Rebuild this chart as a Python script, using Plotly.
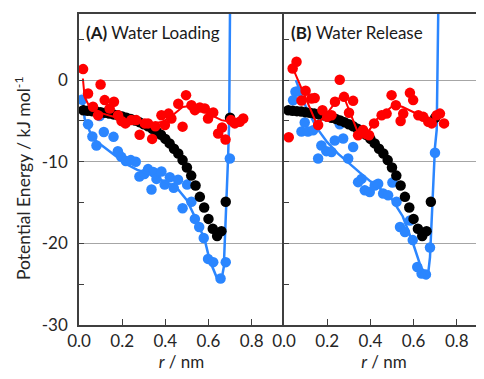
import plotly.graph_objects as go

# ---------------- data ----------------
black_x = [0.02, 0.04, 0.06, 0.08, 0.10, 0.12, 0.14, 0.16, 0.18, 0.20, 0.22, 0.24,
           0.26, 0.28, 0.30, 0.32, 0.34, 0.36, 0.38, 0.40, 0.42, 0.44, 0.46, 0.48,
           0.50, 0.52, 0.54, 0.56, 0.58, 0.60, 0.62, 0.64, 0.66, 0.68, 0.70]
black_y = [-3.7, -3.75, -3.8, -3.85, -3.95, -4.0, -4.1, -4.2, -4.3, -4.45, -4.6, -4.75,
           -4.95, -5.15, -5.4, -5.65, -5.95, -6.3, -6.7, -7.2, -7.75, -8.4, -9.0, -9.8,
           -10.7, -11.7, -12.9, -14.3, -15.6, -17.0, -18.2, -19.1, -18.5, -14.9, -4.6]

# (A) Water Loading
a_blue_x = [0.014, 0.042, 0.062, 0.081, 0.096, 0.115, 0.160, 0.180, 0.196, 0.217, 0.240,
            0.263, 0.280, 0.303, 0.320, 0.336, 0.344, 0.359, 0.382, 0.397, 0.421, 0.439,
            0.459, 0.480, 0.501, 0.521, 0.537, 0.557, 0.578, 0.598, 0.622, 0.656, 0.680, 0.699]
a_blue_y = [-2.4, -5.4, -6.9, -8.0, -4.4, -6.35, -6.95, -8.7, -9.4, -9.9, -9.8,
            -10.0, -11.8, -11.5, -10.9, -13.4, -11.25, -12.1, -11.2, -12.8, -11.9, -13.2,
            -12.2, -15.7, -12.8, -14.9, -17.0, -18.0, -19.35, -21.9, -22.3, -24.3, -22.3, -9.6]
a_bfit_x = [0.018, 0.026, 0.05, 0.08, 0.12, 0.16, 0.22, 0.27, 0.33, 0.37, 0.41, 0.45,
            0.50, 0.545, 0.583, 0.606, 0.637, 0.660, 0.671, 0.680, 0.691, 0.696, 0.700, 0.703]
a_bfit_y = [-2.3, -4.7, -6.3, -7.5, -8.3, -9.1, -10.3, -11.0, -11.5, -12.1, -12.6, -13.1,
            -14.7, -17.2, -19.6, -22.1, -24.1, -24.5, -22.9, -17.6, -9.4, -5.0, 8.2, 20.0]
a_red_x = [0.019, 0.042, 0.065, 0.088, 0.100, 0.119, 0.142, 0.162, 0.181, 0.197, 0.215,
           0.242, 0.265, 0.281, 0.305, 0.320, 0.339, 0.354, 0.382, 0.398, 0.415, 0.428,
           0.460, 0.480, 0.496, 0.521, 0.537, 0.560, 0.583, 0.598, 0.622, 0.645, 0.663,
           0.679, 0.704, 0.722, 0.745, 0.761]
a_red_y = [1.35, -1.64, -3.27, -4.3, -0.53, -2.45, -3.48, -2.66, -4.3, -5.0, -5.3,
           -4.9, -4.9, -6.7, -5.3, -5.3, -7.2, -5.66, -4.3, -5.5, -4.1, -4.7,
           -2.9, -5.7, -1.84, -3.07, -3.68, -3.35, -3.47, -4.7, -3.97, -6.55, -5.8,
           -7.28, -4.9, -5.3, -5.1, -4.7]
a_rfit_x = [0.018, 0.026, 0.049, 0.111, 0.188, 0.265, 0.342, 0.388, 0.434, 0.480,
            0.506, 0.552, 0.598, 0.660, 0.700]
a_rfit_y = [0.2, -2.05, -3.28, -4.1, -4.7, -5.1, -5.3, -5.1, -4.3, -3.3,
            -3.2, -3.5, -4.1, -4.9, -5.1]

# (B) Water Release
b_blue_x = [0.042, 0.053, 0.065, 0.081, 0.096, 0.111, 0.135, 0.158, 0.173, 0.196, 0.220,
            0.235, 0.258, 0.274, 0.297, 0.320, 0.343, 0.359, 0.374, 0.397, 0.420, 0.436,
            0.459, 0.482, 0.502, 0.521, 0.537, 0.560, 0.583, 0.596, 0.617, 0.637, 0.657,
            0.676, 0.699]
b_blue_y = [-2.46, -1.43, -1.35, -6.3, -5.2, -6.3, -6.15, -9.6, -8.0, -8.7, -8.8,
            -7.4, -5.4, -7.15, -9.6, -8.2, -12.5, -12.1, -13.5, -13.7, -12.9, -12.7,
            -13.9, -14.1, -12.55, -14.9, -18.0, -18.6, -17.2, -19.6, -22.9, -23.7, -23.8,
            -20.5, -8.9]
b_bfit_x = [0.055, 0.10, 0.15, 0.20, 0.25, 0.30, 0.35, 0.40, 0.45, 0.50, 0.55, 0.60,
            0.63, 0.655, 0.665, 0.676, 0.688, 0.699, 0.707, 0.714, 0.72]
b_bfit_y = [0.0, -3.2, -5.8, -7.6, -9.0, -10.2, -11.3, -12.4, -13.4, -14.6, -16.7, -20.2,
            -22.6, -24.1, -24.3, -21.7, -14.3, -8.2, -6.1, 8.2, 20.0]
b_red_x = [0.022, 0.040, 0.058, 0.081, 0.100, 0.127, 0.142, 0.158, 0.178, 0.200, 0.220,
           0.236, 0.258, 0.278, 0.301, 0.320, 0.343, 0.366, 0.380, 0.394, 0.417, 0.452,
           0.475, 0.498, 0.518, 0.540, 0.552, 0.583, 0.598, 0.622, 0.645, 0.668, 0.684,
           0.707, 0.722, 0.741]
b_red_y = [-7.0, 1.43, 2.25, -2.5, -1.3, -2.25, -2.2, -5.5, -3.7, -4.5, -4.3,
           -2.66, 0.05, -2.05, -4.0, -2.54, -6.75, -6.1, -6.6, -6.75, -5.3, -4.3,
           -4.1, -1.84, -3.07, -5.0, -4.1, -1.56, -2.45, -4.3, -4.5, -5.1, -5.3,
           -4.3, -4.1, -5.3]
b_rfit_x = [0.042, 0.152, 0.19, 0.25, 0.275, 0.345, 0.39, 0.43, 0.47, 0.51, 0.55,
            0.60, 0.66, 0.70, 0.72]
b_rfit_y = [1.4, -5.4, -4.4, -2.3, -1.9, -6.6, -6.3, -4.8, -3.9, -3.0, -3.3,
            -3.9, -4.7, -4.9, -4.3]

x_ticks = [0.0, 0.2, 0.4, 0.6, 0.8]
x_ticklabels = ["0.0", "0.2", "0.4", "0.6", "0.8"]
y_ticks = [0, -10, -20, -30]
y_ticklabels = ["0", "-10", "-20", "-30"]
panel_titles = ["<b>(A)</b> Water Loading", "<b>(B)</b> Water Release"]

# ---------------- style ----------------
BLUE = "#2B86FF"
RED = "#FF0000"
BLACK = "#000000"
FONT = "Lato"
MS = 10.5

fig = go.Figure()

def add_panel(sfx, bx, by, bfx, bfy, rx, ry, rfx, rfy):
    xa = "x" + sfx
    ya = "y" + sfx
    fig.add_trace(go.Scatter(x=bx, y=by, mode="markers", xaxis=xa, yaxis=ya,
                             marker=dict(color=BLUE, size=MS), showlegend=False))
    fig.add_trace(go.Scatter(x=bfx, y=bfy, mode="lines", xaxis=xa, yaxis=ya,
                             line=dict(color=BLUE, width=2.5), showlegend=False))
    fig.add_trace(go.Scatter(x=black_x, y=black_y, mode="markers", xaxis=xa, yaxis=ya,
                             marker=dict(color=BLACK, size=MS), showlegend=False))
    fig.add_trace(go.Scatter(x=rx, y=ry, mode="markers", xaxis=xa, yaxis=ya,
                             marker=dict(color=RED, size=MS), showlegend=False))
    fig.add_trace(go.Scatter(x=rfx, y=rfy, mode="lines", xaxis=xa, yaxis=ya,
                             line=dict(color=RED, width=2), showlegend=False))

add_panel("", a_blue_x, a_blue_y, a_bfit_x, a_bfit_y, a_red_x, a_red_y, a_rfit_x, a_rfit_y)
add_panel("2", b_blue_x, b_blue_y, b_bfit_x, b_bfit_y, b_red_x, b_red_y, b_rfit_x, b_rfit_y)

AXC = "#3F3F3F"
TXT = "#262626"
TICKFONT = dict(family=FONT, size=17, color=TXT)

# the page body has an 8px default margin, so the figure is drawn 8px in/down
W, H = 476, 371
ML, MT, MB = 71, 6, 54
PW = W - ML
PH = H - MT - MB
split = 205.0 / PW

xcommon = dict(showline=True, linecolor=AXC, linewidth=1.5, mirror=True, automargin=False,
               ticks="inside", ticklen=6, tickcolor=AXC, tickwidth=1,
               tickvals=x_ticks, ticktext=x_ticklabels, tickfont=TICKFONT,
               showgrid=False, zeroline=False,
               title=dict(text="<i>r</i> / nm", font=dict(family=FONT, size=17, color=TXT),
                          standoff=4))
ycommon = dict(range=[-30, 8.1], showline=True, linecolor=AXC, linewidth=1.5, automargin=False,
               tickmode="array", tickvals=y_ticks, ticktext=y_ticklabels,
               ticks="inside", ticklen=5, tickcolor=AXC, tickwidth=1,
               showgrid=True, gridcolor="#A6A6A6", gridwidth=1, zeroline=False,
               minor=dict(tickmode="linear", tick0=5, dtick=10, ticks="inside", ticklen=5,
                          tickcolor=AXC, tickwidth=1, showgrid=False),
               tickfont=TICKFONT)

fig.update_layout(
    width=W, height=H,
    margin=dict(l=ML, r=0, t=MT, b=MB, pad=0),
    paper_bgcolor="white", plot_bgcolor="white",
    xaxis=dict(domain=[0, split], range=[0, 0.95], anchor="y", **xcommon),
    xaxis2=dict(domain=[split, 1], range=[0, 0.926], anchor="y2", **xcommon),
    yaxis=dict(anchor="x", mirror=False, ticklabelstandoff=6, **ycommon),
    yaxis2=dict(anchor="x2", mirror=False, showticklabels=False, **ycommon),
    font=dict(family=FONT),
)

# y-axis title: page centre (22, 179) -> figure coords (14, 171)
fig.add_annotation(text="Potential Energy / kJ mol<sup>-1</sup>", textangle=-90,
                   xref="paper", yref="paper", x=(14 - ML) / PW, y=(MT + PH - 171) / PH,
                   xanchor="center", yanchor="middle", showarrow=False,
                   font=dict(family=FONT, size=17.5, color=TXT))
fig.add_annotation(text=panel_titles[0], xref="x domain", yref="y domain",
                   x=0.025, y=0.94, xanchor="left", yanchor="middle", showarrow=False,
                   font=dict(family=FONT, size=17, color="#1a1a1a"))
fig.add_annotation(text=panel_titles[1], xref="x2 domain", yref="y2 domain",
                   x=0.025, y=0.94, xanchor="left", yanchor="middle", showarrow=False,
                   font=dict(family=FONT, size=17, color="#1a1a1a"))

fig.write_html("out.html")
